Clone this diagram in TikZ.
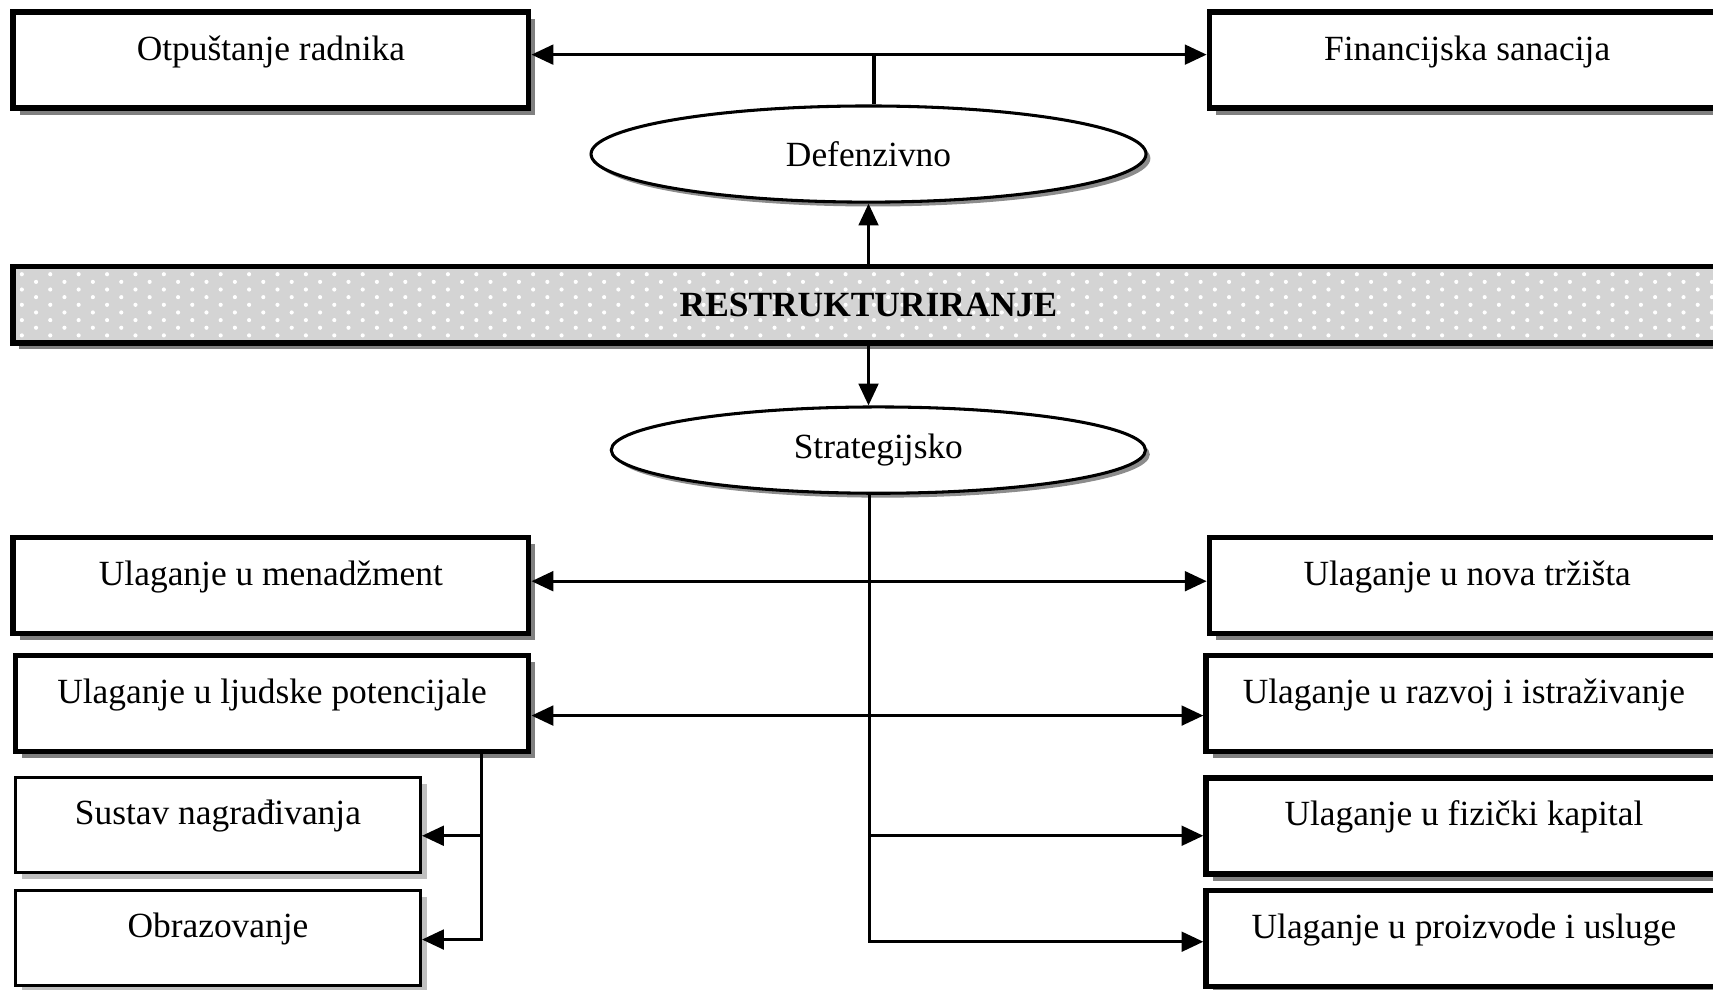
\documentclass[tikz,border=0pt]{standalone}
\usepackage{fontspec}
\setmainfont{Liberation Serif}
\usetikzlibrary{shadows,shapes.geometric,arrows.meta,calc}
\begin{document}
\begin{tikzpicture}[x=0.5pt,y=-0.5pt,
  every node/.style={font=\fontsize{16.2}{19}\selectfont},
  conn/.style={line width=1.4pt,line join=miter},
  arr/.style={conn,-{Triangle[length=10pt,width=9pt]}},
  darr/.style={conn,{Triangle[length=10pt,width=9pt]}-{Triangle[length=10pt,width=9pt]}},
  bigbox/.style={rectangle,draw,line width=2.5pt,fill=white,inner sep=0pt,
    minimum width=236pt,minimum height=44pt,text height=12pt,text depth=12pt,
    drop shadow={shadow xshift=3pt,shadow yshift=-3pt,fill=black!50,opacity=1}},
  smallbox/.style={rectangle,draw,line width=1.3pt,fill=white,inner sep=0pt,
    minimum width=185.5pt,minimum height=43.5pt,text height=12pt,text depth=12pt,
    drop shadow={shadow xshift=3pt,shadow yshift=-3pt,fill=black!25,opacity=1}},
  oval/.style={ellipse,draw,line width=1.4pt,fill=white,inner sep=0pt,
    drop shadow={shadow xshift=2pt,shadow yshift=-2pt,fill=black!45,opacity=1}},
  bandbox/.style={rectangle,draw,line width=2.5pt,fill=black!17,inner sep=0pt,
    minimum width=783pt,minimum height=35pt,
    drop shadow={shadow xshift=2.5pt,shadow yshift=-2.5pt,fill=black!50,opacity=1}}
]
\useasboundingbox (0,0) rectangle (1568,906);

% top boxes
\node[bigbox] (otp) at (248,55) {Otpuštanje radnika};
\node[bigbox] (fin) at (1343,55) {Financijska sanacija};
\node[oval,minimum width=254pt,minimum height=44pt] (def) at (795,141) {Defenzivno};

% band
\node[bandbox] (band) at (795,279) {};
\begin{scope}
  \clip ($(band.north west)+(2pt,-2pt)$) rectangle ($(band.south east)+(-2pt,2pt)$);
  \foreach \r in {0,...,8}{
    \pgfmathsetmacro\yy{251+7*\r}
    \pgfmathsetmacro\xo{mod(\r,2)*13}
    \foreach \c in {0,...,60}{
      \fill[white] ({20+\xo+26*\c},\yy) circle (0.95pt);
    }
  }
\end{scope}
\node[font=\fontsize{16.2}{19}\selectfont\bfseries] (bandtext) at (band.center) {RESTRUKTURIRANJE};

\node[oval,minimum width=244.5pt,minimum height=39.5pt] (str) at (804,412) {Strategijsko};

% lower boxes
\node[bigbox] (men) at (248,536) {Ulaganje u menadžment};
\node[bigbox] (nov) at (1343,536) {Ulaganje u nova tržišta};
\node[bigbox,minimum width=235pt] (lju) at (249,644) {Ulaganje u ljudske potencijale};
\node[bigbox] (raz) at (1340,644) {Ulaganje u razvoj i istraživanje};
\node[smallbox] (sus) at (199.5,755) {Sustav nagrađivanja};
\node[smallbox] (obr) at (199.5,858.5) {Obrazovanje};
\node[bigbox] (fiz) at (1340,756) {Ulaganje u fizički kapital};
\node[bigbox] (pro) at (1340,859) {Ulaganje u proizvode i usluge};

% connectors top
\draw[darr] ([yshift=2.5pt]otp.east) -- ([yshift=2.5pt]fin.west);
\coordinate (tx) at (800,50);
\draw[conn] (tx) -- (tx |- def.north);
\draw[arr] (band.north) -- (band.north |- def.south);
\draw[arr] (band.south) -- (band.south |- str.north);

% connectors bottom
\coordinate (sx) at (796,0);
\coordinate (lx) at (441,0);
\coordinate (fA) at ([yshift=-4.5pt]fiz.west);
\coordinate (pA) at ([yshift=-1.5pt]pro.west);
\coordinate (sA) at ([yshift=-5pt]sus.east);
\coordinate (oA) at ([yshift=-0.75pt]obr.east);
\draw[arr] (sx |- str.south) -- (sx |- pA) -- (pA);
\draw[arr] (sx |- fA) -- (fA);
\draw[darr] ([yshift=2pt]men.east) -- ([yshift=2pt]nov.west);
\draw[darr] ([yshift=-5.5pt]lju.east) -- ([yshift=-5.5pt]raz.west);
\draw[arr] (lx |- lju.south) -- (lx |- oA) -- (oA);
\draw[arr] (lx |- sA) -- (sA);
\end{tikzpicture}
\end{document}
